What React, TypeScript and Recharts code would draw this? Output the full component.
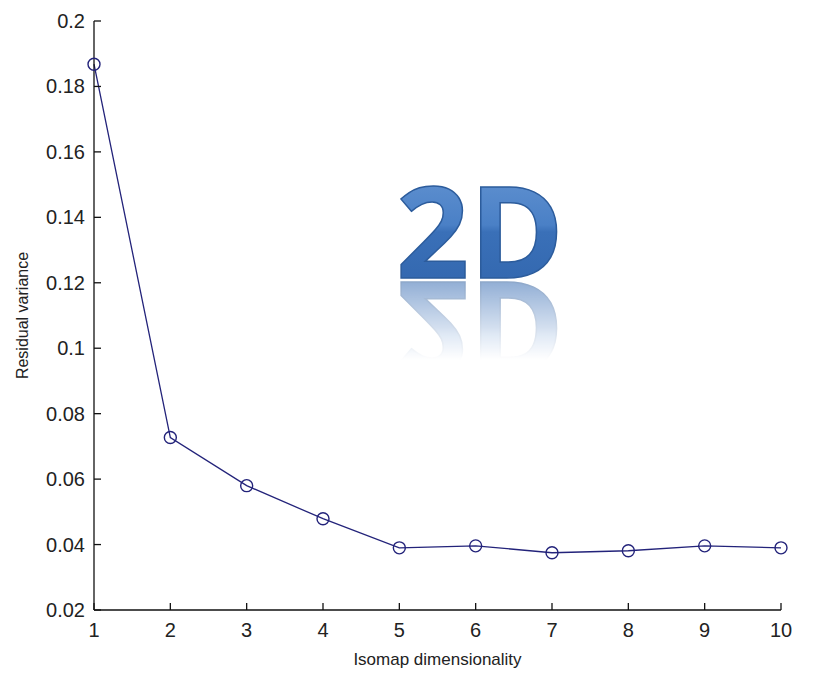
import { LineChart, Line, XAxis, YAxis, Customized } from 'recharts';

const dims = [1, 2, 3, 4, 5, 6, 7, 8, 9, 10];
const residual = [0.1868, 0.0727, 0.058, 0.0479, 0.039, 0.0396, 0.0375, 0.0381, 0.0396, 0.039];
const yTicks = [0.02, 0.04, 0.06, 0.08, 0.1, 0.12, 0.14, 0.16, 0.18, 0.2];

const data = dims.map((d, i) => ({ dim: d, value: residual[i] }));

const LINE = '#23237a';
const TEXT = '#222';
const FONT = '"Liberation Sans", Arial, sans-serif';

function XTick(props: any) {
  const { x, y, payload } = props;
  return (
    <g>
      <line x1={x} y1={y} x2={x} y2={y - 7} stroke="#111" strokeWidth={1.3} />
      <text x={x} y={y + 27} textAnchor="middle" fill={TEXT} fontSize={20} fontFamily={FONT}>
        {payload.value}
      </text>
    </g>
  );
}

function YTick(props: any) {
  const { x, y, payload } = props;
  return (
    <g>
      <line x1={x} y1={y} x2={x + 7} y2={y} stroke="#111" strokeWidth={1.3} />
      <text x={x - 9} y={y + 7} textAnchor="end" fill={TEXT} fontSize={20} fontFamily={FONT}>
        {String(Number(payload.value.toFixed(2)))}
      </text>
    </g>
  );
}

// big "2D" logo with a mirrored, fading reflection under it
function Badge() {
  return (
    <g>
      <defs>
        <linearGradient id="badgeFill" x1="0" y1="0" x2="0" y2="1">
          <stop offset="0%" stopColor="#6d9bd6" />
          <stop offset="48%" stopColor="#4a80c6" />
          <stop offset="52%" stopColor="#3a70b8" />
          <stop offset="100%" stopColor="#2f63aa" />
        </linearGradient>
        <linearGradient id="fadeGrad" x1="0" y1="0" x2="0" y2="1">
          <stop offset="0%" stopColor="#fff" stopOpacity={0.55} />
          <stop offset="100%" stopColor="#fff" stopOpacity={0} />
        </linearGradient>
        <mask id="fadeMask" maskUnits="userSpaceOnUse" x="380" y="280" width="200" height="80">
          <rect x={380} y={280} width={200} height={80} fill="url(#fadeGrad)" />
        </mask>
      </defs>
      <text
        id="badgeText"
        x={480}
        y={278}
        textAnchor="middle"
        fontSize={128}
        fontWeight={700}
        fontFamily='"Open Sans", "DejaVu Sans", sans-serif'
        fill="url(#badgeFill)"
        stroke="#2c5c9c"
        strokeWidth={1.5}
      >
        2D
      </text>
      <g mask="url(#fadeMask)">
        <use href="#badgeText" transform="translate(0,560) scale(1,-1)" />
      </g>
    </g>
  );
}

export default function App() {
  return (
    <div style={{ position: 'absolute', left: 0, top: 0, width: 815, height: 675, background: '#fff' }}>
      <LineChart width={815} height={675} data={data} margin={{ top: 21, right: 34, bottom: 0, left: 30 }}>
        <Customized component={Badge} />
        <XAxis
          dataKey="dim"
          type="number"
          domain={[1, 10]}
          ticks={dims}
          tickSize={0}
          tickMargin={0}
          tickLine={false}
          tick={<XTick />}
          height={65}
          axisLine={{ stroke: '#111', strokeWidth: 1.3 }}
          label={{ value: 'Isomap dimensionality', position: 'insideBottom', offset: 10, fill: TEXT, fontSize: 17, fontFamily: FONT }}
        />
        <YAxis
          type="number"
          domain={[0.02, 0.2]}
          ticks={yTicks}
          tickSize={0}
          tickMargin={0}
          tickLine={false}
          tick={<YTick />}
          width={64}
          axisLine={{ stroke: '#111', strokeWidth: 1.3 }}
          label={{ value: 'Residual variance', angle: -90, position: 'insideLeft', offset: -8, fill: TEXT, fontSize: 16, fontFamily: FONT, style: { textAnchor: 'middle' } }}
        />
        <Line
          dataKey="value"
          stroke={LINE}
          strokeWidth={1.3}
          isAnimationActive={false}
          dot={{ r: 6, stroke: LINE, strokeWidth: 1.4, fill: 'none' }}
          activeDot={false}
        />
      </LineChart>
    </div>
  );
}
